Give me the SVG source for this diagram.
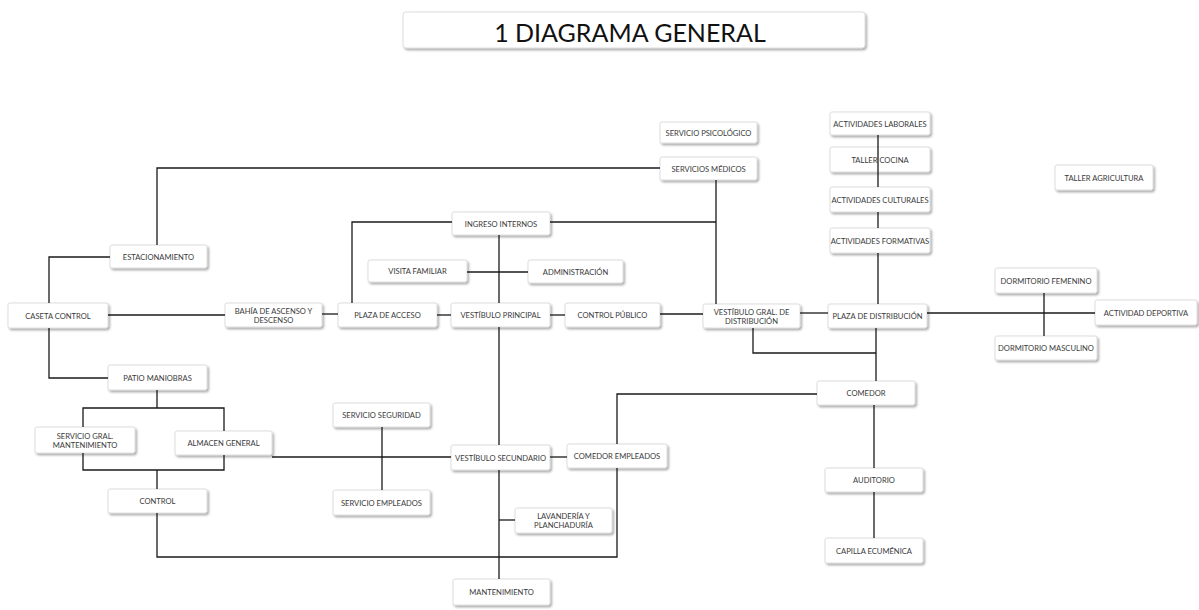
<svg xmlns="http://www.w3.org/2000/svg" width="1199" height="610" viewBox="0 0 1199 610">
<defs>
<filter id="sh" x="-10%" y="-30%" width="125%" height="180%">
<feDropShadow dx="1.5" dy="1.8" stdDeviation="1.1" flood-color="#000" flood-opacity="0.35"/>
</filter>
</defs>
<style>
.box{fill:#fff;stroke:#d4d4d4;stroke-width:0.8;filter:url(#sh)}
.lbl{font-family:Lato,"Open Sans","Liberation Sans",sans-serif;font-size:7.6px;fill:#3a3a3a;text-anchor:middle;dominant-baseline:central}
.ttl{font-family:Lato,"Open Sans","Liberation Sans",sans-serif;font-size:25px;fill:#111;text-anchor:middle;dominant-baseline:central}
.c{fill:none;stroke:#1a1a1a;stroke-width:1.3}
</style>
<rect width="1199" height="610" fill="#fff"/>
<g id="title"><rect class="box" x="403" y="12" width="462" height="36" rx="3"/><text class="ttl" x="630" y="32">1 DIAGRAMA GENERAL</text></g>
<g id="estacionamiento"><rect class="box" x="110" y="245" width="97" height="23" rx="2"/><text class="lbl" x="158.5" y="256.5">ESTACIONAMIENTO</text></g>
<g id="caseta"><rect class="box" x="8" y="303" width="100" height="25" rx="2"/><text class="lbl" x="58" y="315.5">CASETA CONTROL</text></g>
<g id="bahia"><rect class="box" x="225" y="303" width="97" height="24" rx="2"/><text class="lbl" x="273.5" y="311">BAHÍA DE ASCENSO Y</text><text class="lbl" x="273.5" y="320">DESCENSO</text></g>
<g id="plaza_acceso"><rect class="box" x="338" y="303" width="99" height="24" rx="2"/><text class="lbl" x="387.5" y="315">PLAZA DE ACCESO</text></g>
<g id="vest_principal"><rect class="box" x="451" y="303" width="99" height="24" rx="2"/><text class="lbl" x="500.5" y="315">VESTÍBULO PRINCIPAL</text></g>
<g id="control_publico"><rect class="box" x="565" y="303" width="95" height="24" rx="2"/><text class="lbl" x="612.5" y="315">CONTROL PÚBLICO</text></g>
<g id="vest_gral"><rect class="box" x="703" y="304" width="97" height="24" rx="2"/><text class="lbl" x="751.5" y="311.5">VESTÍBULO GRAL. DE</text><text class="lbl" x="751.5" y="320.5">DISTRIBUCIÓN</text></g>
<g id="plaza_dist"><rect class="box" x="828" y="304" width="99" height="24" rx="2"/><text class="lbl" x="877.5" y="316">PLAZA DE DISTRIBUCIÓN</text></g>
<g id="dorm_fem"><rect class="box" x="995" y="268" width="102" height="25" rx="2"/><text class="lbl" x="1046" y="280.5">DORMITORIO FEMENINO</text></g>
<g id="act_dep"><rect class="box" x="1095" y="300" width="102" height="25" rx="2"/><text class="lbl" x="1146" y="312.5">ACTIVIDAD DEPORTIVA</text></g>
<g id="dorm_masc"><rect class="box" x="995" y="336" width="102" height="24" rx="2"/><text class="lbl" x="1046" y="348">DORMITORIO MASCULINO</text></g>
<g id="taller_agric"><rect class="box" x="1055" y="165" width="98" height="25" rx="2"/><text class="lbl" x="1104" y="177.5">TALLER AGRICULTURA</text></g>
<g id="act_lab"><rect class="box" x="830" y="112" width="100" height="23" rx="2"/><text class="lbl" x="880" y="123.5">ACTIVIDADES LABORALES</text></g>
<g id="taller_cocina"><rect class="box" x="830" y="147" width="100" height="25" rx="2"/><text class="lbl" x="880" y="159.5">TALLER COCINA</text></g>
<g id="act_cult"><rect class="box" x="830" y="187" width="100" height="25" rx="2"/><text class="lbl" x="880" y="199.5">ACTIVIDADES CULTURALES</text></g>
<g id="act_form"><rect class="box" x="830" y="228" width="100" height="25" rx="2"/><text class="lbl" x="880" y="240.5">ACTIVIDADES FORMATIVAS</text></g>
<g id="serv_psico"><rect class="box" x="660" y="122" width="97" height="21" rx="2"/><text class="lbl" x="708.5" y="132.5">SERVICIO PSICOLÓGICO</text></g>
<g id="serv_medicos"><rect class="box" x="660" y="157" width="97" height="23" rx="2"/><text class="lbl" x="708.5" y="168.5">SERVICIOS MÉDICOS</text></g>
<g id="ingreso"><rect class="box" x="452" y="212" width="98" height="23" rx="2"/><text class="lbl" x="501" y="223.5">INGRESO INTERNOS</text></g>
<g id="visita"><rect class="box" x="368" y="260" width="99" height="22" rx="2"/><text class="lbl" x="417.5" y="271">VISITA FAMILIAR</text></g>
<g id="admin"><rect class="box" x="528" y="260" width="95" height="23" rx="2"/><text class="lbl" x="575.5" y="271.5">ADMINISTRACIÓN</text></g>
<g id="patio"><rect class="box" x="108" y="365" width="99" height="25" rx="2"/><text class="lbl" x="157.5" y="377.5">PATIO MANIOBRAS</text></g>
<g id="serv_gral"><rect class="box" x="35" y="427" width="100" height="26" rx="2"/><text class="lbl" x="85" y="436">SERVICIO GRAL.</text><text class="lbl" x="85" y="445">MANTENIMIENTO</text></g>
<g id="almacen"><rect class="box" x="175" y="431" width="97" height="24" rx="2"/><text class="lbl" x="223.5" y="443">ALMACEN GENERAL</text></g>
<g id="control"><rect class="box" x="108" y="489" width="99" height="24" rx="2"/><text class="lbl" x="157.5" y="501">CONTROL</text></g>
<g id="serv_seg"><rect class="box" x="333" y="403" width="97" height="24" rx="2"/><text class="lbl" x="381.5" y="415">SERVICIO SEGURIDAD</text></g>
<g id="serv_emp"><rect class="box" x="333" y="490" width="97" height="25" rx="2"/><text class="lbl" x="381.5" y="502.5">SERVICIO EMPLEADOS</text></g>
<g id="vest_sec"><rect class="box" x="451" y="445" width="99" height="25" rx="2"/><text class="lbl" x="500.5" y="457.5">VESTÍBULO SECUNDARIO</text></g>
<g id="comedor_emp"><rect class="box" x="567" y="444" width="100" height="24" rx="2"/><text class="lbl" x="617" y="456">COMEDOR EMPLEADOS</text></g>
<g id="lavanderia"><rect class="box" x="515" y="508" width="97" height="25" rx="2"/><text class="lbl" x="563.5" y="516">LAVANDERÍA Y</text><text class="lbl" x="563.5" y="525">PLANCHADURÍA</text></g>
<g id="mantenimiento"><rect class="box" x="453" y="579" width="97" height="26" rx="2"/><text class="lbl" x="501.5" y="592">MANTENIMIENTO</text></g>
<g id="comedor"><rect class="box" x="817" y="381" width="98" height="24" rx="2"/><text class="lbl" x="866" y="393">COMEDOR</text></g>
<g id="auditorio"><rect class="box" x="825" y="468" width="98" height="24" rx="2"/><text class="lbl" x="874" y="480">AUDITORIO</text></g>
<g id="capilla"><rect class="box" x="825" y="538" width="98" height="25" rx="2"/><text class="lbl" x="874" y="550.5">CAPILLA ECUMÉNICA</text></g>
<g id="connectors" class="c">
<path class="c" d="M110,257 H49 V303"/>
<path class="c" d="M49,328 V378 H108"/>
<path class="c" d="M108,315 H225"/>
<path class="c" d="M157,245 V168 H660"/>
<path class="c" d="M322,314 H338"/>
<path class="c" d="M437,315 H451"/>
<path class="c" d="M352,303 V222 H452"/>
<path class="c" d="M550,222 H716"/>
<path class="c" d="M716,180 V304"/>
<path class="c" d="M499,235 V303"/>
<path class="c" d="M467,272 H528"/>
<path class="c" d="M550,315 H565"/>
<path class="c" d="M660,314 H703"/>
<path class="c" d="M800,313 H828"/>
<path class="c" d="M927,313 H1095"/>
<path class="c" d="M1044,293 V336"/>
<path class="c" d="M878,135 V187"/>
<path class="c" d="M878,212 V228"/>
<path class="c" d="M878,253 V304"/>
<path class="c" d="M753,328 V353 H876"/>
<path class="c" d="M876,328 V381"/>
<path class="c" d="M874,405 V468"/>
<path class="c" d="M874,492 V538"/>
<path class="c" d="M499,327 V445"/>
<path class="c" d="M499,470 V579"/>
<path class="c" d="M499,520 H515"/>
<path class="c" d="M272,457 H451"/>
<path class="c" d="M382,427 V490"/>
<path class="c" d="M550,457 H567"/>
<path class="c" d="M617,444 V394 H817"/>
<path class="c" d="M617,468 V557 H157 V513"/>
<path class="c" d="M157,390 V408"/>
<path class="c" d="M83,427 V408 H224 V431"/>
<path class="c" d="M83,453 V470 H224 V455"/>
<path class="c" d="M157,470 V489"/>
</g>
</svg>
